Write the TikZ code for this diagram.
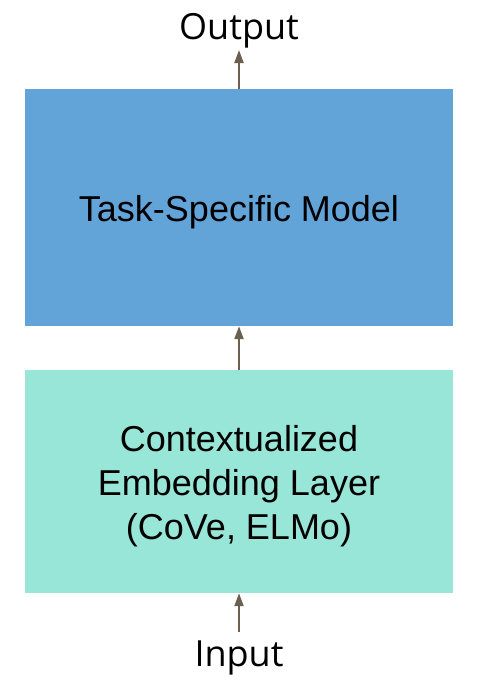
\documentclass[tikz,border=0pt]{standalone}
\usepackage{fontspec}
\setmainfont{Liberation Sans}
\newfontfamily\labelfont{Open Sans}
\usetikzlibrary{arrows.meta}
\definecolor{taskblue}{HTML}{62A3D8}
\definecolor{embteal}{HTML}{98E6D8}
\definecolor{arrowc}{HTML}{6B5F4F}
\tikzset{
  box/.style={draw=none, minimum width=428pt, inner sep=0pt, align=center, font=\fontsize{36}{44}\selectfont},
  lbl/.style={font=\labelfont\fontsize{36}{40}\selectfont, inner sep=0pt},
  conn/.style={draw=arrowc, line width=2pt, -{Triangle[length=13pt,width=9pt]}}
}
\begin{document}
\begin{tikzpicture}[x=1pt,y=-1pt]
\useasboundingbox (0,0) rectangle (480,683);
\node[box, fill=taskblue, minimum height=237pt] (task) at (239,207.5) {};
\node[box, fill=embteal, minimum height=223pt] (emb) at (239,481.5) {};
\node[box, anchor=center] (tasktext) at (239,212) {Task-Specific Model};
\node[box, anchor=center] (embtext) at (239,486) {Contextualized\\Embedding Layer\\(CoVe, ELMo)};
\node[lbl] (out) at (239,31) {Output};
\node[lbl] (in) at (239,658) {Input};
\coordinate (inarr) at (239,632);
\coordinate (outarr) at (239,50);
\draw[conn] (task.north -| outarr) -- (outarr);
\draw[conn] (emb.north) -- (task.south);
\draw[conn] (inarr) -- (emb.south);
\end{tikzpicture}
\end{document}
